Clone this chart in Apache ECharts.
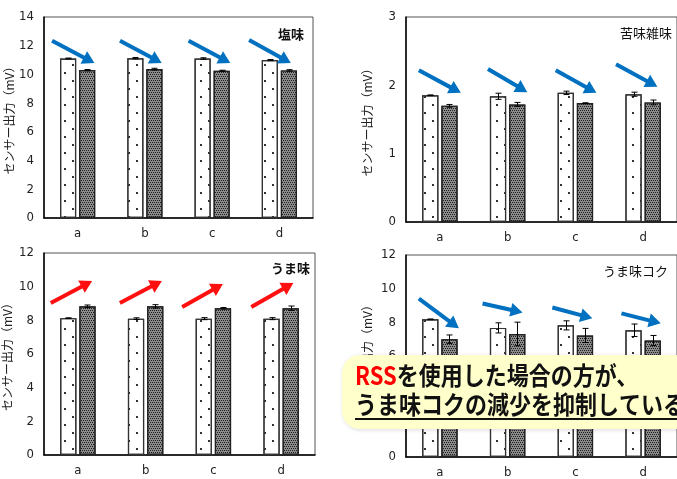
<!DOCTYPE html>
<html><head><meta charset="utf-8">
<script src="https://cdn.jsdelivr.net/npm/echarts@6/dist/echarts.min.js"></script>
<style>html,body{margin:0;padding:0;background:#fff}#c{width:677px;height:479px}</style>
</head><body><div id="c"></div>
<script>
// ---------- data ----------
const categories = ['a', 'b', 'c', 'd'];
const panelTitles = ['塩味', '苦味雑味', 'うま味', 'うま味コク'];
const yName = 'センサー出力（mV）';
const yMax = [14, 3, 12, 12];
const yInterval = [2, 1, 2, 2];

// 塩味
const saltWhite = [11.11, 11.13, 11.11, 11.0];
const saltWhiteErr = [0.03, 0.05, 0.05, 0.04];
const saltDark = [10.3, 10.37, 10.26, 10.28];
const saltDarkErr = [0.04, 0.06, 0.03, 0.05];
// 苦味雑味
const bitterWhite = [1.855, 1.84, 1.89, 1.87];
const bitterWhiteErr = [0.005, 0.045, 0.025, 0.03];
const bitterDark = [1.70, 1.72, 1.74, 1.75];
const bitterDarkErr = [0.02, 0.03, 0.005, 0.035];
// うま味
const umamiWhite = [8.13, 8.1, 8.1, 8.1];
const umamiWhiteErr = [0.02, 0.05, 0.06, 0.06];
const umamiDark = [8.83, 8.83, 8.72, 8.72];
const umamiDarkErr = [0.08, 0.1, 0.04, 0.13];
// うま味コク
const kokuWhite = [8.18, 7.67, 7.82, 7.53];
const kokuWhiteErr = [0.02, 0.3, 0.27, 0.37];
const kokuDark = [7.0, 7.31, 7.22, 6.92];
const kokuDarkErr = [0.25, 0.7, 0.42, 0.3];

// annotation arrows [x0, y0, x1(tip), y1(tip)] in (category-unit, value) space
const saltArrows = [[0.12, 12.35, 0.75, 10.79], [1.13, 12.35, 1.75, 10.79], [2.15, 12.35, 2.77, 10.79], [3.05, 12.4, 3.67, 10.79]];
const bitterArrows = [[0.19, 2.22, 0.81, 1.89], [1.21, 2.24, 1.79, 1.90], [2.21, 2.22, 2.81, 1.89], [3.10, 2.31, 3.71, 1.98]];
const umamiArrows = [[0.10, 9.03, 0.71, 10.34], [1.12, 9.03, 1.74, 10.34], [2.04, 8.79, 2.64, 10.16], [3.06, 8.79, 3.68, 10.22]];
const kokuArrows = [[0.19, 9.41, 0.78, 7.65], [1.13, 9.12, 1.72, 8.59], [2.16, 8.88, 2.75, 8.24], [3.18, 8.53, 3.76, 7.94]];

const noteLine1Red = 'RSS';
const noteLine1 = 'を使用した場合の方が、';
const noteLine2 = 'うま味コクの減少を抑制している';

// ---------- layout / style ----------
const panels = [
  {white: saltWhite, whiteErr: saltWhiteErr, dark: saltDark, darkErr: saltDarkErr, arrows: saltArrows, arrowColor: '#0070C0',
   grid: {left: 44, top: 17, width: 269, height: 201}, nameGap: 29, title: {left: 278, top: 28, bold: true}},
  {white: bitterWhite, whiteErr: bitterWhiteErr, dark: bitterDark, darkErr: bitterDarkErr, arrows: bitterArrows, arrowColor: '#0070C0',
   grid: {left: 406, top: 17, width: 272, height: 205}, nameGap: 33, title: {left: 620, top: 27, bold: false}},
  {white: umamiWhite, whiteErr: umamiWhiteErr, dark: umamiDark, darkErr: umamiDarkErr, arrows: umamiArrows, arrowColor: '#FF1010',
   grid: {left: 44, top: 253, width: 271, height: 202}, nameGap: 31, title: {left: 271, top: 262, bold: true}},
  {white: kokuWhite, whiteErr: kokuWhiteErr, dark: kokuDark, darkErr: kokuDarkErr, arrows: kokuArrows, arrowColor: '#0070C0',
   grid: {left: 406, top: 255, width: 272, height: 204}, nameGap: 33, title: {left: 603, top: 265, bold: false}}
];

const BAR_W = 0.24, BAR_GAP = 0.18;
const tickFont = '"Liberation Sans Narrow","DejaVu Sans Condensed","Liberation Sans",sans-serif';
const jpFont = '"Noto Sans CJK JP","Noto Sans",sans-serif';

function renderErr(params, api) {
  const ci = api.value(0), v = api.value(1), e = api.value(2), side = api.value(3);
  const catW = api.size([1, 0])[0];
  const off = side * catW * BAR_W * (1 + BAR_GAP) / 2;
  const top = api.coord([ci, v + e]);
  const bot = api.coord([ci, v - e]);
  const x = Math.round(top[0] + off) + 0.5;
  const cap = 3;
  const st = {stroke: '#000', lineWidth: 1};
  return {type: 'group', children: [
    {type: 'line', shape: {x1: x, y1: top[1], x2: x, y2: bot[1]}, style: st},
    {type: 'line', shape: {x1: x - cap, y1: top[1], x2: x + cap, y2: top[1]}, style: st},
    {type: 'line', shape: {x1: x - cap, y1: bot[1], x2: x + cap, y2: bot[1]}, style: st}
  ]};
}
function makeArrowRenderer(color) {
  return function (params, api) {
    const p0 = api.coord([api.value(0), api.value(1)]);
    const p1 = api.coord([api.value(2), api.value(3)]);
    const dx = p1[0] - p0[0], dy = p1[1] - p0[1];
    const len = Math.sqrt(dx * dx + dy * dy);
    const ux = dx / len, uy = dy / len;
    const L = 12, W = 7;
    const bx = p1[0] - ux * L, by = p1[1] - uy * L;
    return {type: 'group', children: [
      {type: 'line', shape: {x1: p0[0], y1: p0[1], x2: bx + ux * 2, y2: by + uy * 2}, style: {stroke: color, lineWidth: 4, lineCap: 'butt'}},
      {type: 'polygon', shape: {points: [[p1[0], p1[1]], [bx - uy * W, by + ux * W], [bx + uy * W, by - ux * W]]}, style: {fill: color}}
    ]};
  };
}

const grid = [], xAxis = [], yAxis = [], series = [], title = [];
panels.forEach((p, i) => {
  grid.push(Object.assign({show: true, borderColor: '#555', borderWidth: 1, backgroundColor: 'transparent'}, p.grid));
  xAxis.push({type: 'category', gridIndex: i, data: categories,
    axisLine: {lineStyle: {color: '#000', width: 1.5}}, axisTick: {show: false},
    axisLabel: {color: '#222', fontSize: 13, fontFamily: tickFont, margin: 9}});
  xAxis.push({type: 'value', gridIndex: i, min: 0, max: 4, show: false});
  yAxis.push({type: 'value', gridIndex: i, min: 0, max: yMax[i], interval: yInterval[i],
    name: yName, nameLocation: 'middle', nameGap: p.nameGap, nameRotate: 90,
    nameTextStyle: {color: '#222', fontSize: 12, fontFamily: jpFont},
    axisLine: {show: true, lineStyle: {color: '#000', width: 1.5}}, axisTick: {show: false},
    splitLine: {show: false},
    axisLabel: {color: '#222', fontSize: 13, fontFamily: tickFont, margin: 10}});
  series.push({type: 'bar', xAxisIndex: 2 * i, yAxisIndex: i, data: p.white,
    barWidth: (BAR_W * 100) + '%', barGap: (BAR_GAP * 100) + '%',
    itemStyle: {color: '#fff', borderColor: '#333', borderWidth: 1.2,
      decal: {symbol: 'rect', symbolSize: 1, color: '#333', dashArrayX: [[2, 14], [0, 8, 2, 6]], dashArrayY: [2, 6]}}});
  series.push({type: 'bar', xAxisIndex: 2 * i, yAxisIndex: i, data: p.dark,
    barWidth: (BAR_W * 100) + '%', barGap: (BAR_GAP * 100) + '%',
    itemStyle: {color: '#8c8c8c', borderColor: '#222', borderWidth: 1.2,
      decal: {symbol: 'rect', symbolSize: 1, color: '#1e1e1e', dashArrayX: [[1, 1], [0, 1, 1, 0]], dashArrayY: [1, 1]}}});
  const errData = [];
  categories.forEach((c, k) => {
    errData.push([k, p.white[k], p.whiteErr[k], -1]);
    errData.push([k, p.dark[k], p.darkErr[k], 1]);
  });
  series.push({type: 'custom', xAxisIndex: 2 * i, yAxisIndex: i, data: errData, renderItem: renderErr,
    encode: {x: 0, y: 1}, z: 5, clip: false});
  series.push({type: 'custom', xAxisIndex: 2 * i + 1, yAxisIndex: i, data: p.arrows,
    renderItem: makeArrowRenderer(p.arrowColor), encode: {x: [0, 2], y: [1, 3]}, z: 6, clip: false});
  title.push({text: panelTitles[i], left: p.title.left, top: p.title.top, padding: 0,
    textStyle: {fontSize: 13, fontWeight: p.title.bold ? 'bold' : 'normal', color: '#111', fontFamily: jpFont}});
});

const chart = echarts.init(document.getElementById('c'), null, {renderer: 'canvas'});
chart.setOption({
  animation: false,
  backgroundColor: '#fff',
  title, grid, xAxis, yAxis, series,
  graphic: [
    {type: 'rect', left: 342, top: 355, z: 100,
      shape: {width: 400, height: 74, r: 18},
      style: {fill: '#FFFFCC', shadowBlur: 4, shadowColor: 'rgba(0,0,0,0.15)', shadowOffsetX: 1, shadowOffsetY: 1}},
    {type: 'text', x: 355, y: 375, z: 101, scaleX: 0.88,
      style: {text: '{r|' + noteLine1Red + '}' + noteLine1, fill: '#111', font: 'bold 25px ' + jpFont, verticalAlign: 'middle',
        rich: {r: {fill: '#FF0000', fontSize: 25, fontWeight: 'bold', fontFamily: jpFont}}}},
    {type: 'text', x: 355, y: 404, z: 101, scaleX: 0.88,
      style: {text: noteLine2, fill: '#111', font: 'bold 25px ' + jpFont, verticalAlign: 'middle'}},
    {type: 'line', z: 101, shape: {x1: 355, y1: 419, x2: 700, y2: 419}, style: {stroke: '#111', lineWidth: 2}}
  ]
});
</script></body></html>
